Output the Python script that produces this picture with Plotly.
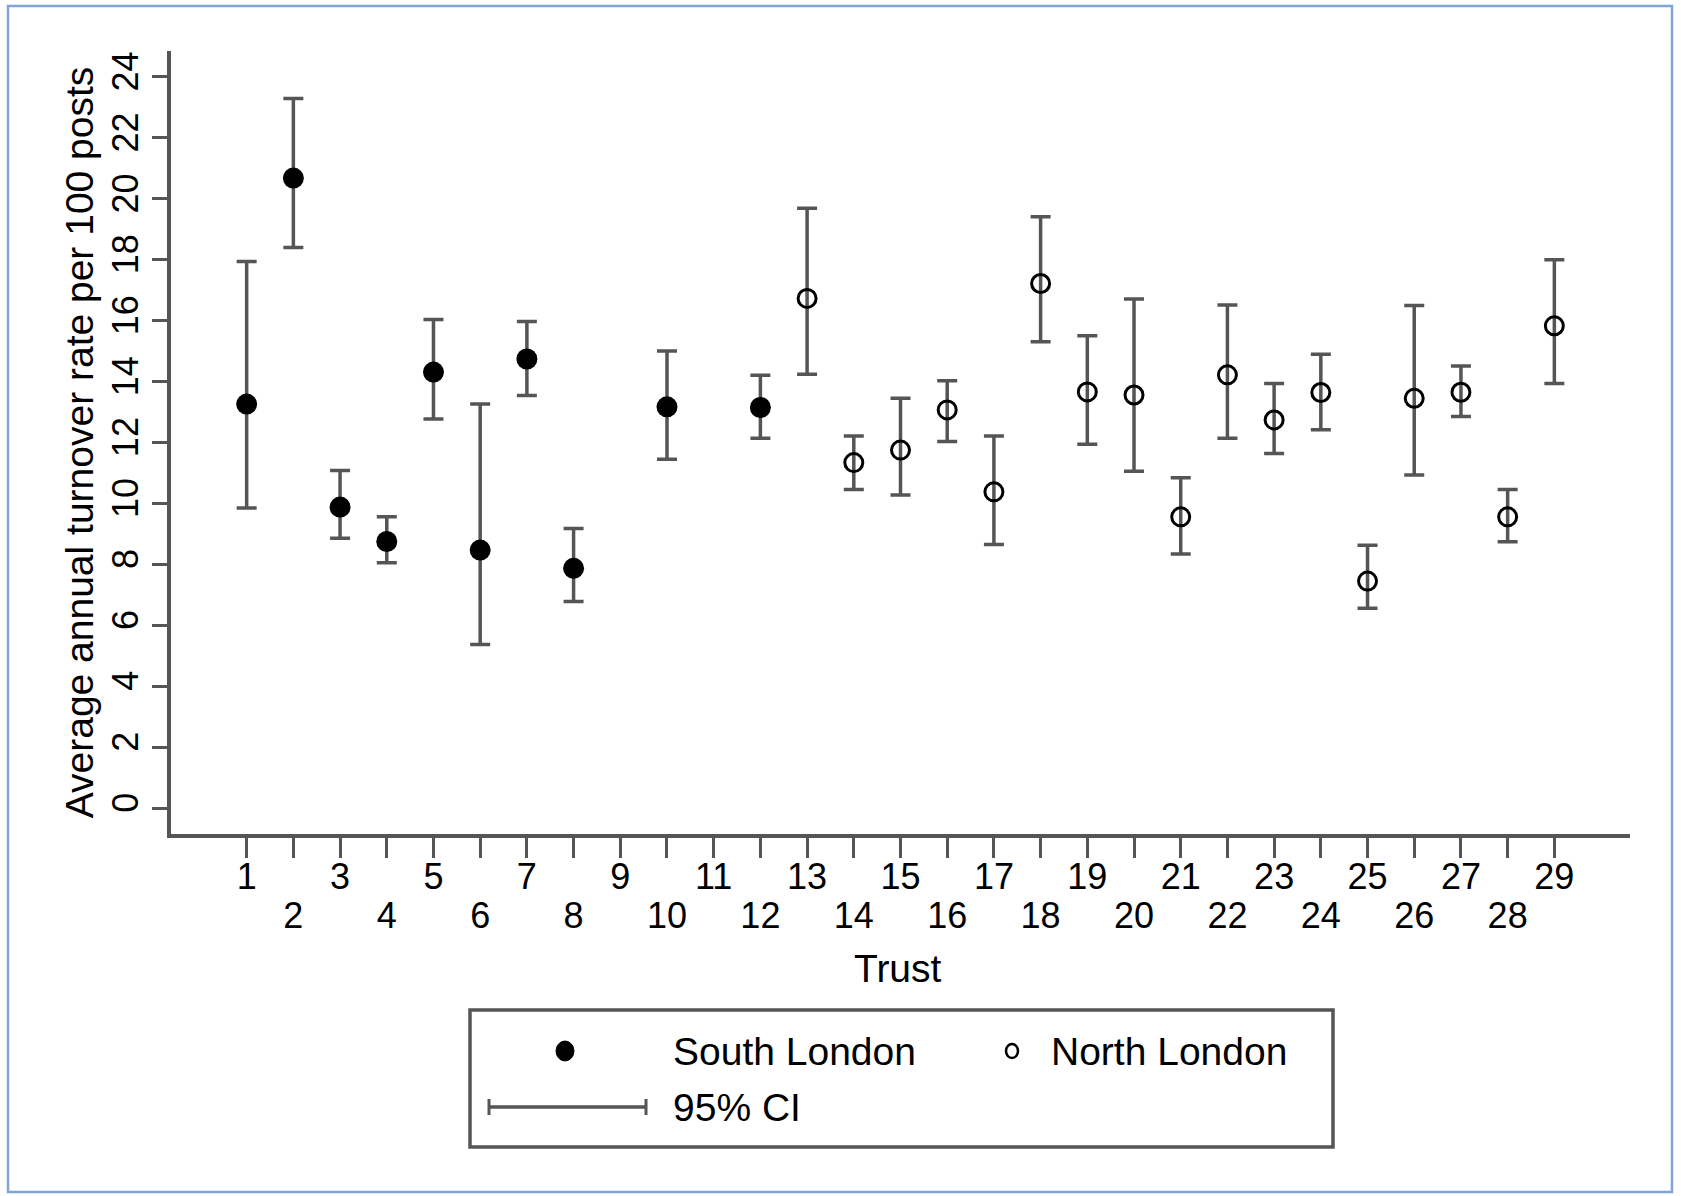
import plotly.graph_objects as go

# ---- data ----
south_trust = [1, 2, 3, 4, 5, 6, 7, 8, 10, 12]
south_rate = [13.26, 20.68, 9.88, 8.75, 14.31, 8.47, 14.74, 7.87, 13.17, 13.15]
south_lo = [9.85, 18.40, 8.86, 8.05, 12.77, 5.37, 13.54, 6.78, 11.45, 12.14]
south_hi = [17.94, 23.29, 11.08, 9.56, 16.04, 13.26, 15.97, 9.18, 15.00, 14.21]

north_trust = [13, 14, 15, 16, 17, 18, 19, 20, 21, 22, 23, 24, 25, 26, 27, 28, 29]
north_rate = [16.73, 11.34, 11.75, 13.07, 10.38, 17.22, 13.66, 13.56, 9.56, 14.22,
              12.74, 13.64, 7.45, 13.45, 13.65, 9.56, 15.83]
north_lo = [14.24, 10.46, 10.28, 12.03, 8.65, 15.31, 11.94, 11.06, 8.34, 12.14,
            11.64, 12.42, 6.56, 10.93, 12.85, 8.74, 13.94]
north_hi = [19.69, 12.21, 13.45, 14.03, 12.21, 19.41, 15.50, 16.71, 10.84, 16.51,
            13.94, 14.90, 8.63, 16.50, 14.51, 10.46, 18.00]

x_ticks = list(range(1, 30))
x_odd_text = [str(t) if t % 2 == 1 else "" for t in x_ticks]
x_even_ticks = [t for t in x_ticks if t % 2 == 0]
x_even_text = [str(t) for t in x_even_ticks]
y_ticks = list(range(0, 25, 2))

FONT = "Liberation Sans, Arial, sans-serif"
AX = "#555555"

W, H = 1681, 1196
L, R, T, B = 171, 51, 51, 362
PW, PH = W - L - R, H - T - B
XRANGE = [-0.62, 30.62]
YRANGE = [-0.85, 24.85]


def xp(px):
    return (px - L) / PW


def yp(py):
    return (H - B - py) / PH


fig = go.Figure()

fig.add_trace(go.Scatter(
    x=south_trust, y=south_rate, mode="markers", name="South London",
    marker=dict(symbol="circle", size=21, color="black"),
    error_y=dict(type="data", symmetric=False,
                 array=[h - v for h, v in zip(south_hi, south_rate)],
                 arrayminus=[v - l for v, l in zip(south_rate, south_lo)],
                 color=AX, thickness=3.5, width=10),
    showlegend=False,
))
fig.add_trace(go.Scatter(
    x=north_trust, y=north_rate, mode="markers", name="North London",
    xaxis="x2", yaxis="y",
    marker=dict(symbol="circle-open", size=18, color="black", line=dict(width=3, color="black")),
    error_y=dict(type="data", symmetric=False,
                 array=[h - v for h, v in zip(north_hi, north_rate)],
                 arrayminus=[v - l for v, l in zip(north_rate, north_lo)],
                 color=AX, thickness=3.5, width=10),
    showlegend=False,
))

shapes = []
# outer blue frame
shapes.append(dict(type="rect", xref="paper", yref="paper",
                   x0=xp(8), x1=xp(1672), y0=yp(1192), y1=yp(6),
                   line=dict(color="#7ea6d9", width=2.5), fillcolor="rgba(0,0,0,0)", layer="below"))
# legend box
shapes.append(dict(type="rect", xref="paper", yref="paper",
                   x0=xp(470), x1=xp(1333), y0=yp(1147), y1=yp(1010),
                   line=dict(color="#555555", width=3.5), fillcolor="white"))
# legend markers
shapes.append(dict(type="circle", xref="paper", yref="paper", xsizemode="pixel", ysizemode="pixel",
                   xanchor=xp(565), yanchor=yp(1051), x0=-9, x1=9, y0=-10, y1=10,
                   fillcolor="black", line=dict(color="black", width=1)))
shapes.append(dict(type="circle", xref="paper", yref="paper", xsizemode="pixel", ysizemode="pixel",
                   xanchor=xp(1012), yanchor=yp(1051), x0=-6, x1=6, y0=-7, y1=7,
                   fillcolor="white", line=dict(color="black", width=2.5)))
# legend CI bar
shapes.append(dict(type="line", xref="paper", yref="paper",
                   x0=xp(489), x1=xp(646), y0=yp(1107), y1=yp(1107),
                   line=dict(color=AX, width=3.5)))
for cx in (489, 646):
    shapes.append(dict(type="line", xref="paper", yref="paper", ysizemode="pixel",
                       x0=xp(cx), x1=xp(cx), yanchor=yp(1107), y0=-8, y1=8,
                       line=dict(color=AX, width=3)))

lf = dict(size=39, color="black", family=FONT)
annotations = [
    dict(text="South London", x=xp(671), y=yp(1051), xref="paper", yref="paper",
         xanchor="left", yanchor="middle", showarrow=False, font=lf),
    dict(text="North London", x=xp(1049), y=yp(1051), xref="paper", yref="paper",
         xanchor="left", yanchor="middle", showarrow=False, font=lf),
    dict(text="95% CI", x=xp(671), y=yp(1107), xref="paper", yref="paper",
         xanchor="left", yanchor="middle", showarrow=False, font=lf),
    dict(text="Trust", x=xp(898), y=yp(968), xref="paper", yref="paper",
         xanchor="center", yanchor="middle", showarrow=False, font=lf),
]

fig.update_layout(
    width=W, height=H,
    margin=dict(l=L, r=R, t=T, b=B),
    paper_bgcolor="white", plot_bgcolor="white",
    font=dict(family=FONT, color="black"),
    shapes=shapes, annotations=annotations,
    showlegend=False,
    xaxis=dict(
        range=XRANGE, tickmode="array", tickvals=x_ticks, ticktext=x_odd_text,
        ticks="outside", ticklen=20, tickwidth=2.5, tickcolor=AX, ticklabelstandoff=-12,
        showline=True, linecolor=AX, linewidth=3.5, showgrid=False, zeroline=False,
        tickfont=dict(size=36, color="black"),
    ),
    xaxis2=dict(
        overlaying="x", anchor="y", side="bottom",
        range=XRANGE, tickmode="array", tickvals=x_even_ticks, ticktext=x_even_text,
        ticks="outside", ticklen=20, tickwidth=1, tickcolor="rgba(0,0,0,0)", ticklabelstandoff=30,
        showline=False, showgrid=False, zeroline=False,
        tickfont=dict(size=36, color="black"),
    ),
    yaxis=dict(
        range=YRANGE, tickmode="array", tickvals=y_ticks, tickangle=-90,
        ticks="outside", ticklen=15, tickwidth=2.5, tickcolor=AX,
        showline=True, linecolor=AX, linewidth=3.5, showgrid=False, zeroline=False,
        tickfont=dict(size=36, color="black"),
        title=dict(text="Average annual turnover rate per 100 posts",
                   font=dict(size=39, color="black"), standoff=0),
    ),
)

fig.write_html("out.html", config={"displayModeBar": False},
               post_script="document.body.style.margin='0px';")
